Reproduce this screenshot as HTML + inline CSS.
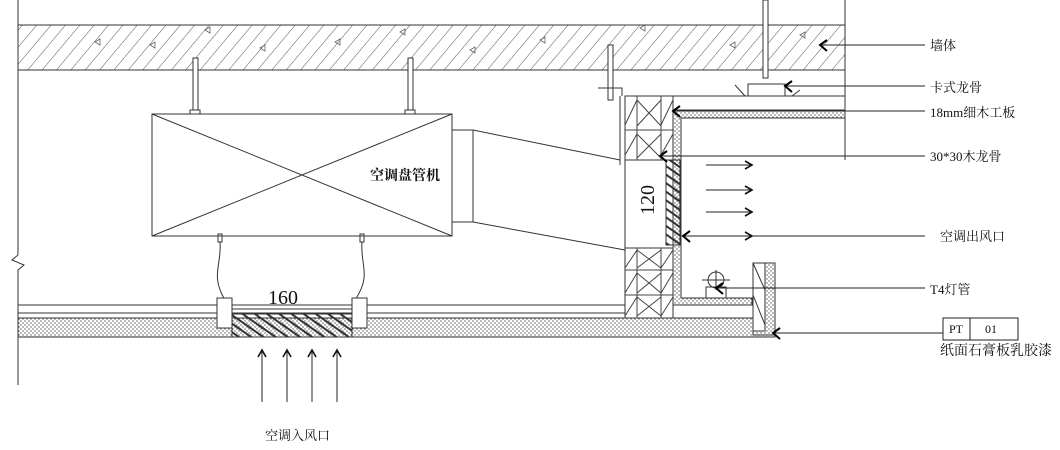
<!DOCTYPE html>
<html><head><meta charset="utf-8"><style>
html,body{margin:0;padding:0;background:#fff;}
svg{display:block;}
text{font-family:"Liberation Serif","Noto Serif CJK SC",serif;fill:#111;}
</style></head><body>
<svg width="1060" height="450" viewBox="0 0 1060 450" xmlns="http://www.w3.org/2000/svg">
<defs>
<pattern id="hat" patternUnits="userSpaceOnUse" width="11" height="11" patternTransform="rotate(40)">
<line x1="0" y1="0" x2="0" y2="11" stroke="#555" stroke-width="1"/>
</pattern>
<pattern id="dot" patternUnits="userSpaceOnUse" width="4" height="4">
<rect width="4" height="4" fill="#fff"/><circle cx="1" cy="1" r="0.7" fill="#555"/><circle cx="3" cy="3" r="0.7" fill="#555"/>
</pattern>
<pattern id="gr" patternUnits="userSpaceOnUse" width="7" height="7" patternTransform="rotate(-55)">
<rect x="0" y="0" width="2" height="7" fill="#333"/>
</pattern>
<marker id="ar" markerWidth="10" markerHeight="10" refX="8" refY="5" orient="auto" markerUnits="userSpaceOnUse">
<path d="M1,1 L8,5 L1,9" fill="none" stroke="#111" stroke-width="1.6"/>
</marker>
</defs>
<g stroke="#333" stroke-width="1" fill="none">
<line x1="18" y1="0" x2="18" y2="255"/><path d="M18,255 L12,260 L24,265 L18,270 L18,385"/>
<rect x="18" y="25" width="827" height="45" fill="url(#hat)"/>
<g fill="none" stroke="#666" stroke-width="0.8">
<path d="M95,42 l5,-3 l0,6 z M150,45 l5,-3 l0,6 z M205,30 l5,-3 l0,6 z M260,48 l5,-3 l0,6 z M335,42 l5,-3 l0,6 z M400,32 l5,-3 l0,6 z M470,50 l5,-3 l0,6 z M540,40 l5,-3 l0,6 z M640,28 l5,-3 l0,6 z M730,45 l5,-3 l0,6 z M800,35 l5,-3 l0,6 z"/>
</g>
<line x1="845" y1="0" x2="845" y2="160"/>
<rect x="193" y="58" width="5" height="56" fill="#fff"/>
<rect x="408" y="58" width="5" height="56" fill="#fff"/>
<rect x="190" y="110" width="10" height="5" fill="#fff"/><rect x="405" y="110" width="10" height="5" fill="#fff"/>
<rect x="152" y="114" width="300" height="122" fill="#fff"/>
<line x1="152" y1="114" x2="452" y2="236"/><line x1="452" y1="114" x2="152" y2="236"/>
<rect x="452" y="130" width="21" height="92"/>
<path d="M473,130 L620,160 M473,222 L625,250"/>
<rect x="218" y="234" width="4" height="8"/><rect x="360" y="234" width="4" height="8"/>
<path d="M220,242 C222,265 210,275 225,300 M362,242 C360,265 372,275 355,300"/>
<line x1="18" y1="305" x2="625" y2="305"/>
<line x1="18" y1="313" x2="625" y2="313"/>
<rect x="18" y="318" width="757" height="19" fill="url(#dot)"/>
<rect x="217" y="298" width="15" height="30" fill="#fff"/><rect x="352" y="298" width="15" height="30" fill="#fff"/>
<rect x="232" y="314" width="120" height="23" fill="url(#gr)"/>
<line x1="232" y1="309" x2="352" y2="309"/>
<line x1="625" y1="96" x2="845" y2="96"/>
<rect x="625" y="96" width="48" height="222" fill="#fff"/>
<rect x="625" y="160" width="48" height="88" fill="#fff"/>
<g stroke="#444">
<line x1="637" y1="96" x2="637" y2="160"/><line x1="661" y1="96" x2="661" y2="160"/>
<line x1="637" y1="248" x2="637" y2="318"/><line x1="661" y1="248" x2="661" y2="318"/>
<line x1="625" y1="130" x2="673" y2="130"/><line x1="625" y1="270" x2="673" y2="270"/><line x1="625" y1="295" x2="673" y2="295"/>
<path d="M637,100 L661,126 M661,100 L637,126 M637,134 L661,158 M661,134 L637,158 M637,250 L661,268 M661,250 L637,268 M637,273 L661,293 M661,273 L637,293 M637,297 L661,316 M661,297 L637,316"/>
<path d="M625,125 L637,100 M625,155 L637,134 M661,125 L673,100 M661,155 L673,134 M625,268 L637,250 M625,293 L637,273 M625,316 L637,297 M661,268 L673,250 M661,293 L673,273 M661,316 L673,297"/>
</g>
<line x1="620" y1="96" x2="620" y2="165"/>
<path d="M673,110 L845,110 L845,118 L681,118 L681,298 L752,298 L752,305 L673,305 Z" fill="url(#dot)"/>
<line x1="673" y1="160" x2="673" y2="248"/>
<rect x="666" y="160" width="14" height="85" fill="url(#gr)"/>
<rect x="753" y="263" width="22" height="72" fill="url(#dot)"/>
<rect x="753" y="263" width="12" height="68" fill="#fff"/>
<line x1="753" y1="263" x2="765" y2="290"/><line x1="753" y1="295" x2="765" y2="325"/>
<circle cx="716" cy="280" r="8"/><path d="M702,280 L730,280 M716,270 L716,290"/><rect x="706" y="287" width="20" height="11"/>
<rect x="763" y="0" width="5" height="78" fill="#fff"/>
<path d="M735,85 L745,96 M748,96 L748,84 L785,84 L785,96 M792,96 L800,90"/>
<rect x="608" y="45" width="5" height="55" fill="#fff"/><path d="M598,88 L622,88 L622,96"/>
<g stroke="#222">
<line x1="820" y1="45" x2="925" y2="45"/>
<line x1="785" y1="86" x2="925" y2="86"/>
<line x1="673" y1="111" x2="925" y2="111"/>
<line x1="660" y1="156" x2="925" y2="156"/>
<line x1="683" y1="236" x2="925" y2="236"/>
<line x1="716" y1="288" x2="925" y2="288"/>
<line x1="773" y1="333" x2="943" y2="333"/>
</g>
<g stroke="#000" stroke-width="2">
<path d="M827,40 L820,45 L827,51 M792,81 L785,86 L792,92 M680,106 L673,111 L680,117 M667,151 L660,156 L667,162 M690,231 L683,236 L690,242 M723,283 L716,288 L723,294 M780,328 L773,333 L780,339"/>
</g>
<g stroke="#222" marker-end="url(#ar)">
<line x1="706" y1="165" x2="752" y2="165"/>
<line x1="706" y1="190" x2="752" y2="190"/>
<line x1="706" y1="212" x2="752" y2="212"/>
<line x1="690" y1="236" x2="752" y2="236"/>
<line x1="262" y1="402" x2="262" y2="350"/>
<line x1="287" y1="402" x2="287" y2="350"/>
<line x1="312" y1="402" x2="312" y2="350"/>
<line x1="337" y1="402" x2="337" y2="350"/>
</g>
<rect x="943" y="318" width="75" height="22" stroke="#222"/><line x1="970" y1="318" x2="970" y2="340" stroke="#222"/>
</g>
<g font-size="13">
<text x="370" y="180" font-weight="bold" font-size="14">空调盘管机</text>
<text x="268" y="304" font-size="20">160</text>
<text transform="translate(654,200) rotate(-90)" font-size="20" text-anchor="middle">120</text>
<text x="930" y="50">墙体</text>
<text x="930" y="92">卡式龙骨</text>
<text x="930" y="117">18mm细木工板</text>
<text x="930" y="161">30*30木龙骨</text>
<text x="940" y="241">空调出风口</text>
<text x="930" y="294">T4灯管</text>
<text x="949" y="333" font-size="12">PT</text>
<text x="985" y="333" font-size="12">01</text>
<text x="940" y="355" font-size="14">纸面石膏板乳胶漆</text>
<text x="265" y="440">空调入风口</text>
</g>
</svg>
</body></html>
